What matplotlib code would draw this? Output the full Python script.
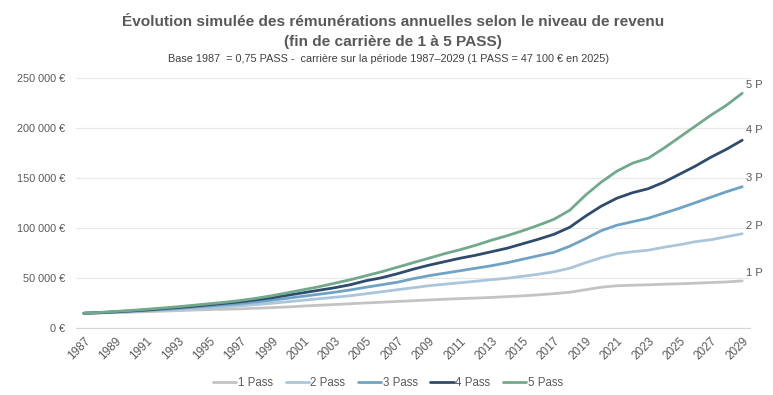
import numpy as np
import matplotlib
matplotlib.use("Agg")
import matplotlib.pyplot as plt
from matplotlib.ticker import FuncFormatter

plt.rcParams['font.family'] = ['Liberation Sans', 'DejaVu Sans']

years = list(range(1987, 2030))

# rémunérations annuelles (milliers d'euros)
pass_1 = [15.0, 15.3, 15.7, 16.1, 16.6, 17.1, 17.6, 18.2, 18.7, 19.0, 19.4,
          20.0, 20.6, 21.3, 22.2, 23.0, 23.7, 24.5, 25.3, 26.0, 26.8, 27.5,
          28.3, 29.0, 29.6, 30.2, 30.8, 31.6, 32.4, 33.4, 34.6, 36.0, 38.5,
          41.0, 42.5, 43.0, 43.5, 44.0, 44.5, 45.0, 45.7, 46.3, 47.3]
pass_2 = [15.0, 15.4, 16.0, 16.6, 17.3, 18.0, 18.8, 19.7, 20.6, 21.5, 22.5,
          23.7, 25.0, 26.5, 28.0, 29.5, 31.0, 32.5, 34.5, 36.5, 38.5, 40.5,
          42.5, 44.0, 45.5, 47.0, 48.5, 50.0, 52.0, 54.0, 56.5, 60.0, 65.5,
          70.5, 74.5, 76.5, 78.0, 81.0, 83.5, 86.5, 88.5, 91.5, 94.5]
pass_3 = [15.0, 15.5, 16.2, 17.0, 17.8, 18.8, 19.8, 21.0, 22.2, 23.5, 24.8,
          26.3, 28.0, 30.0, 32.0, 34.0, 36.0, 38.3, 41.0, 43.5, 46.0, 49.5,
          52.5, 55.0, 57.5, 60.0, 62.5, 65.5, 69.0, 72.5, 76.0, 82.0, 89.5,
          97.5, 103.0, 106.5, 110.0, 115.0, 120.0, 125.5, 131.0, 136.5, 141.5]
pass_4 = [15.0, 15.6, 16.4, 17.3, 18.3, 19.5, 20.7, 22.0, 23.5, 25.0, 26.5,
          28.5, 30.5, 33.0, 35.5, 38.0, 40.5, 43.5, 47.5, 50.5, 54.5, 59.0,
          63.0, 66.5, 70.0, 73.0, 76.5, 80.0, 84.5, 89.0, 94.0, 101.0, 112.0,
          122.0, 130.0, 135.5, 139.5, 146.0, 154.0, 162.0, 171.0, 179.0, 188.0]
pass_5 = [15.0, 15.8, 16.8, 17.8, 19.0, 20.2, 21.5, 23.0, 24.5, 26.0, 27.8,
          30.0, 32.5, 35.5, 38.5, 41.5, 45.0, 48.5, 52.5, 56.5, 61.0, 65.5,
          70.0, 74.5, 78.5, 83.0, 88.0, 92.5, 97.5, 103.0, 109.0, 118.0, 133.0,
          146.0, 157.0, 165.0, 170.0, 180.0, 191.0, 202.0, 213.0, 223.0, 235.0]

labels = ['1 Pass', '2 Pass', '3 Pass', '4 Pass', '5 Pass']
colors = ['#c3c3c3', '#abc6da', '#6fa3c6', '#2f4b6d', '#70a98b']

right_labels = ['1 P', '2 P', '3 P', '4 P', '5 P']
right_label_vals = [55000, 102000, 150000, 198000, 243000]

grey_txt = '#595959'

fig = plt.figure(figsize=(7.73, 3.95), dpi=100)
ax = fig.add_axes([0.0983, 0.169, 0.872, 0.633])

for serie, lab, col in zip([pass_1, pass_2, pass_3, pass_4, pass_5], labels, colors):
    ax.plot(years, np.array(serie) * 1000, color=col, lw=2.0, label=lab,
            solid_capstyle='round')

ax.set_ylim(0, 250000)
ax.set_xlim(1986.5, 2029.5)
ax.set_yticks(range(0, 250001, 50000))
ax.yaxis.set_major_formatter(FuncFormatter(lambda v, p: '{:,.0f} €'.format(v).replace(',', ' ')))
ax.set_xticks(years[::2])
ax.set_xticklabels([str(y) for y in years[::2]], rotation=45, ha='right',
                   rotation_mode='anchor')
ax.tick_params(axis='both', length=0, colors=grey_txt, labelsize=7.8)
ax.tick_params(axis='x', pad=5, labelsize=8.5)
ax.tick_params(axis='y', pad=8)
ax.grid(axis='y', color='#e8e8e8', lw=0.9)
ax.set_axisbelow(True)
for s in ['top', 'right', 'left']:
    ax.spines[s].set_visible(False)
ax.spines['bottom'].set_color('#d6d6d6')
ax.spines['bottom'].set_zorder(0)

# étiquettes "1 P" ... "5 P" à droite de la dernière année
for lab, v in zip(right_labels, right_label_vals):
    ax.annotate(lab, xy=(years[-1], v), xytext=(3, 0), textcoords='offset points',
                ha='left', va='center', fontsize=8, color=grey_txt,
                annotation_clip=False)

fig.text(0.508, 0.945, 'Évolution simulée des rémunérations annuelles selon le niveau de revenu',
         ha='center', va='center', fontsize=11.1, fontweight='bold', color=grey_txt)
fig.text(0.508, 0.893, '(fin de carrière de 1 à 5 PASS)',
         ha='center', va='center', fontsize=11.1, fontweight='bold', color=grey_txt)
fig.text(0.502, 0.85, 'Base 1987  = 0,75 PASS -  carrière sur la période 1987–2029 (1 PASS = 47 100 € en 2025)',
         ha='center', va='center', fontsize=7.8, color='#404040')

fig.legend(loc='center', bbox_to_anchor=(0.502, 0.03), ncol=5, frameon=False,
           fontsize=8.3, handlelength=2.0, handletextpad=0.15, columnspacing=1.1,
           labelcolor=grey_txt)

fig.savefig('out.png', dpi=100)
